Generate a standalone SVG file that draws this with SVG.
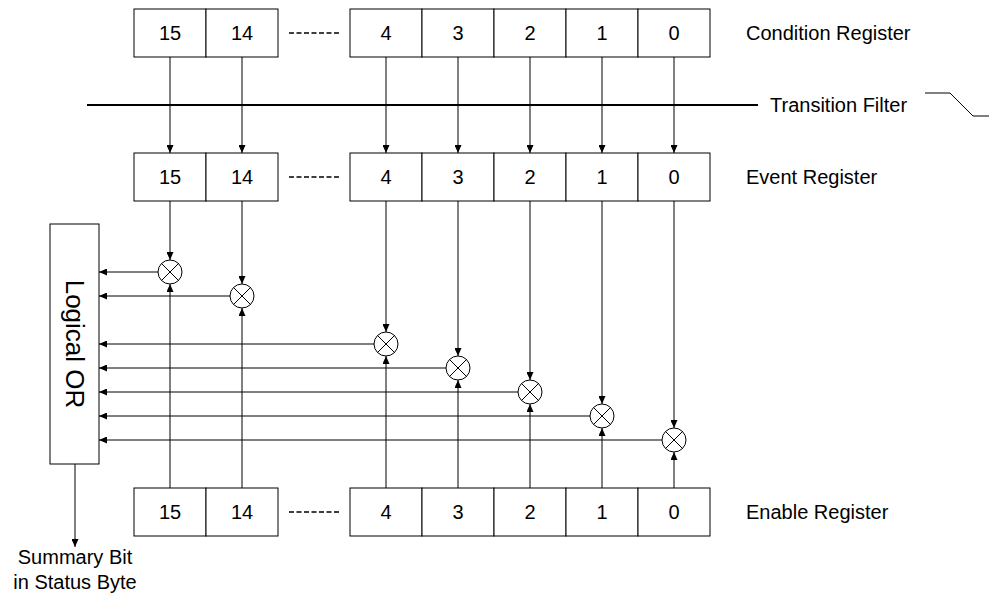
<svg xmlns="http://www.w3.org/2000/svg" width="989" height="594" viewBox="0 0 989 594">
<defs>
<marker id="ah" viewBox="0 0 8 7" refX="8" refY="3.5" markerWidth="8" markerHeight="7" markerUnits="userSpaceOnUse" orient="auto">
<path d="M0,0 L8,3.5 L0,7 z" fill="#000"/>
</marker>
<style>
.cell{fill:#fff;stroke:#000;stroke-width:1}
.t{font-family:"Liberation Sans",Arial,sans-serif;font-size:20px;fill:#000}
.c{text-anchor:middle}
.ln{stroke:#000;stroke-width:1;fill:none}
.ar{stroke:#000;stroke-width:1;fill:none;marker-end:url(#ah)}
.mul{fill:#fff;stroke:#000;stroke-width:1}
.dash{stroke:#000;stroke-width:1.5;stroke-dasharray:5 2.5}
</style>
</defs>
<rect width="989" height="594" fill="#fff"/>

<g id="connectors">
<line class="ar" x1="170" y1="57" x2="170" y2="153"/>
<line class="ar" x1="242" y1="57" x2="242" y2="153"/>
<line class="ar" x1="386" y1="57" x2="386" y2="153"/>
<line class="ar" x1="458" y1="57" x2="458" y2="153"/>
<line class="ar" x1="530" y1="57" x2="530" y2="153"/>
<line class="ar" x1="602" y1="57" x2="602" y2="153"/>
<line class="ar" x1="674" y1="57" x2="674" y2="153"/>
<line class="ar" x1="170" y1="201" x2="170" y2="260"/>
<line class="ar" x1="242" y1="201" x2="242" y2="284"/>
<line class="ar" x1="386" y1="201" x2="386" y2="332"/>
<line class="ar" x1="458" y1="201" x2="458" y2="356"/>
<line class="ar" x1="530" y1="201" x2="530" y2="380"/>
<line class="ar" x1="602" y1="201" x2="602" y2="404"/>
<line class="ar" x1="674" y1="201" x2="674" y2="428"/>
<line class="ar" x1="170" y1="488" x2="170" y2="284"/>
<line class="ar" x1="242" y1="488" x2="242" y2="308"/>
<line class="ar" x1="386" y1="488" x2="386" y2="356"/>
<line class="ar" x1="458" y1="488" x2="458" y2="380"/>
<line class="ar" x1="530" y1="488" x2="530" y2="404"/>
<line class="ar" x1="602" y1="488" x2="602" y2="428"/>
<line class="ar" x1="674" y1="488" x2="674" y2="452"/>
<line class="ar" x1="158" y1="272" x2="99" y2="272"/>
<line class="ar" x1="230" y1="296" x2="99" y2="296"/>
<line class="ar" x1="374" y1="344" x2="99" y2="344"/>
<line class="ar" x1="446" y1="368" x2="99" y2="368"/>
<line class="ar" x1="518" y1="392" x2="99" y2="392"/>
<line class="ar" x1="590" y1="416" x2="99" y2="416"/>
<line class="ar" x1="662" y1="440" x2="99" y2="440"/>
<line class="ar" x1="75" y1="464" x2="75" y2="547"/>
</g>

<g id="transition-filter">
<line x1="87" y1="105" x2="758" y2="105" stroke="#000" stroke-width="1.8"/>
<text class="t" x="770" y="112">Transition Filter</text>
<polyline class="ln" points="925,93 950,93 973,116 989,116" stroke-width="1.3"/>
</g>

<g id="condition-register">
<rect class="cell" x="134" y="9" width="72" height="48"/>
<rect class="cell" x="206" y="9" width="72" height="48"/>
<line class="dash" x1="289" y1="33" x2="339" y2="33"/>
<rect class="cell" x="350" y="9" width="72" height="48"/>
<rect class="cell" x="422" y="9" width="72" height="48"/>
<rect class="cell" x="494" y="9" width="72" height="48"/>
<rect class="cell" x="566" y="9" width="72" height="48"/>
<rect class="cell" x="638" y="9" width="72" height="48"/>
<text class="t c" x="170" y="40">15</text>
<text class="t c" x="242" y="40">14</text>
<text class="t c" x="386" y="40">4</text>
<text class="t c" x="458" y="40">3</text>
<text class="t c" x="530" y="40">2</text>
<text class="t c" x="602" y="40">1</text>
<text class="t c" x="674" y="40">0</text>
<text class="t" x="746" y="40">Condition Register</text>
</g>

<g id="event-register">
<rect class="cell" x="134" y="153" width="72" height="48"/>
<rect class="cell" x="206" y="153" width="72" height="48"/>
<line class="dash" x1="289" y1="177" x2="339" y2="177"/>
<rect class="cell" x="350" y="153" width="72" height="48"/>
<rect class="cell" x="422" y="153" width="72" height="48"/>
<rect class="cell" x="494" y="153" width="72" height="48"/>
<rect class="cell" x="566" y="153" width="72" height="48"/>
<rect class="cell" x="638" y="153" width="72" height="48"/>
<text class="t c" x="170" y="184">15</text>
<text class="t c" x="242" y="184">14</text>
<text class="t c" x="386" y="184">4</text>
<text class="t c" x="458" y="184">3</text>
<text class="t c" x="530" y="184">2</text>
<text class="t c" x="602" y="184">1</text>
<text class="t c" x="674" y="184">0</text>
<text class="t" x="746" y="184">Event Register</text>
</g>

<g id="enable-register">
<rect class="cell" x="134" y="488" width="72" height="48"/>
<rect class="cell" x="206" y="488" width="72" height="48"/>
<line class="dash" x1="289" y1="512" x2="339" y2="512"/>
<rect class="cell" x="350" y="488" width="72" height="48"/>
<rect class="cell" x="422" y="488" width="72" height="48"/>
<rect class="cell" x="494" y="488" width="72" height="48"/>
<rect class="cell" x="566" y="488" width="72" height="48"/>
<rect class="cell" x="638" y="488" width="72" height="48"/>
<text class="t c" x="170" y="519">15</text>
<text class="t c" x="242" y="519">14</text>
<text class="t c" x="386" y="519">4</text>
<text class="t c" x="458" y="519">3</text>
<text class="t c" x="530" y="519">2</text>
<text class="t c" x="602" y="519">1</text>
<text class="t c" x="674" y="519">0</text>
<text class="t" x="746" y="519">Enable Register</text>
</g>

<g id="multipliers">
<g id="mul15"><circle class="mul" cx="170" cy="272" r="12"/><path class="ln" d="M161.5,263.5 L178.5,280.5 M178.5,263.5 L161.5,280.5"/></g>
<g id="mul14"><circle class="mul" cx="242" cy="296" r="12"/><path class="ln" d="M233.5,287.5 L250.5,304.5 M250.5,287.5 L233.5,304.5"/></g>
<g id="mul4"><circle class="mul" cx="386" cy="344" r="12"/><path class="ln" d="M377.5,335.5 L394.5,352.5 M394.5,335.5 L377.5,352.5"/></g>
<g id="mul3"><circle class="mul" cx="458" cy="368" r="12"/><path class="ln" d="M449.5,359.5 L466.5,376.5 M466.5,359.5 L449.5,376.5"/></g>
<g id="mul2"><circle class="mul" cx="530" cy="392" r="12"/><path class="ln" d="M521.5,383.5 L538.5,400.5 M538.5,383.5 L521.5,400.5"/></g>
<g id="mul1"><circle class="mul" cx="602" cy="416" r="12"/><path class="ln" d="M593.5,407.5 L610.5,424.5 M610.5,407.5 L593.5,424.5"/></g>
<g id="mul0"><circle class="mul" cx="674" cy="440" r="12"/><path class="ln" d="M665.5,431.5 L682.5,448.5 M682.5,431.5 L665.5,448.5"/></g>
</g>

<g id="logical-or">
<rect class="cell" x="50" y="224" width="49" height="240"/>
<text class="t c" x="75" y="344" dominant-baseline="central" transform="rotate(90 75 344)" style="font-size:26px">Logical OR</text>
</g>

<g id="summary">
<text class="t c" x="75" y="564">Summary Bit</text>
<text class="t c" x="75" y="589">in Status Byte</text>
</g>
</svg>
